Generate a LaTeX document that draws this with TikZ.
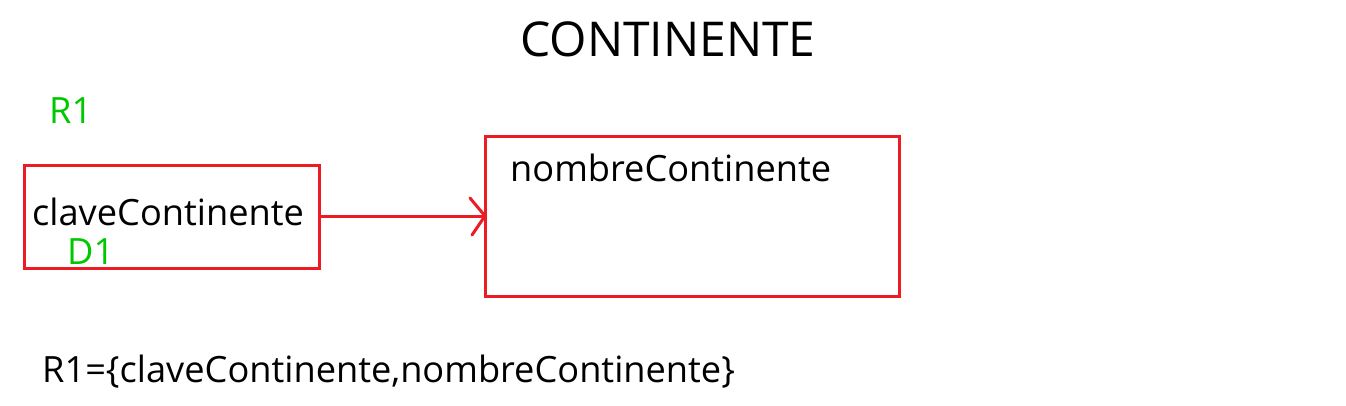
\documentclass[tikz,border=0pt]{standalone}
\usepackage{fontspec}
\setmainfont{Open Sans}
\definecolor{boxred}{RGB}{237,28,36}
\definecolor{lblgreen}{RGB}{0,200,0}
\begin{document}
\begin{tikzpicture}[x=1pt,y=-1pt,
  box/.style={draw=boxred,line width=3pt},
  txt/.style={anchor=base west,inner sep=0pt,font=\fontsize{36.2}{40}\selectfont},
  lbl/.style={anchor=base west,inner sep=0pt,text=lblgreen,font=\fontsize{36.2}{40}\selectfont},
  conn/.style={draw=boxred,line width=3pt}]
\useasboundingbox (0,0) rectangle (1346,405);
\node[anchor=base,inner sep=0pt,font=\fontsize{48}{52}\selectfont] (title) at (668,56) {CONTINENTE};
\node[lbl] (r1) at (49,123) {R1};
\coordinate (b1a) at (24,165);
\coordinate (b1b) at (319,268);
\draw[box] (b1a) rectangle (b1b);
\node[txt] (k) at (32,225) {claveContinente};
\node[lbl] (d1) at (67,264) {D1};
\coordinate (b2a) at (485,136);
\coordinate (b2b) at (899,296);
\draw[box] (b2a) rectangle (b2b);
\node[txt] (n) at (510,181) {nombreContinente};
\coordinate (s) at (319,216);
\coordinate (e) at (485,216);
\coordinate (h1) at (470,198);
\coordinate (h2) at (472,235);
\draw[conn] (s) -- (e);
\draw[conn,line cap=round,line join=round] (h1) -- (e) -- (h2);
\node[txt] (rel) at (42,382) {R1=\{claveContinente,nombreContinente\}};
\end{tikzpicture}
\end{document}
